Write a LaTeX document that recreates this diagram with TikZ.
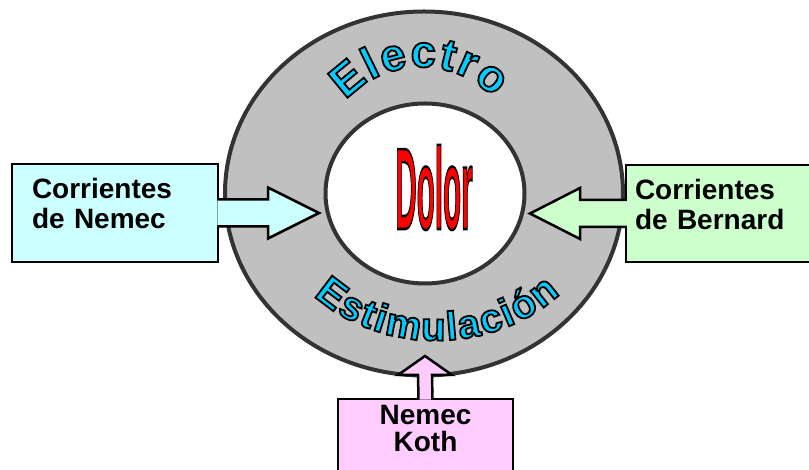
\documentclass[tikz,border=0pt]{standalone}
\usepackage{fontspec}
\usepackage{graphicx}
\setmainfont{Liberation Sans}
\usetikzlibrary{shapes.geometric,decorations.text}

\definecolor{ringgray}{RGB}{192,192,192}
\definecolor{ringline}{RGB}{51,51,51}
\definecolor{nemecfill}{RGB}{204,255,255}
\definecolor{bernardfill}{RGB}{204,255,204}
\definecolor{kothfill}{RGB}{255,204,255}
\definecolor{wordcyan}{RGB}{0,204,255}
\definecolor{dolorred}{RGB}{255,0,0}

% letters filled in the current colour and stroked in black
\newcommand\outlined[1]{\special{pdf:literal direct 0 G #1 w 2 Tr}}
\newcommand\electrofont{\fontsize{45}{45}\selectfont\bfseries\color{wordcyan}\outlined{1.8}}
\newcommand\stimfont{\fontsize{40}{40}\selectfont\bfseries\color{wordcyan}\outlined{1.8}}

\tikzset{
  sourcebox/.style={draw, line width=2.5pt, rectangle, inner sep=0pt,
    font=\fontsize{28}{30}\selectfont\bfseries, text height=20pt, text depth=48pt},
  blockarrow/.style={draw, line width=2.5pt, line join=miter},
  ringedge/.style={ellipse, draw=ringline, line width=4pt, inner sep=0pt}
}

\begin{document}
\begin{tikzpicture}[x=1pt, y=1pt]
  \path[use as bounding box, fill=white] (0,0) rectangle (809,470);

  % the ring
  \node[ringedge, fill=ringgray, minimum width=398pt, minimum height=364pt] (ring) at (424,276.5) {};
  \node[ringedge, fill=white, minimum width=199pt, minimum height=180pt] (core) at (425,276.5) {};
  \node[font=\fontsize{40}{40}\selectfont\bfseries] (dolor) at (434,282.5)
    {\scalebox{0.74}[2.9]{\color{dolorred}\outlined{0.9}Dolor}};

  % arched words
  \path[decorate, decoration={text along path, text={|\electrofont|Electro}, text align={fit to path}}]
    (421,302) ++(138:101) arc[start angle=138, end angle=44, radius=101];
  \path[decorate, decoration={text along path, text={|\stimfont|Estimulación}, text align={fit to path}}]
    (436,276.5) ++(224:170 and 147) arc[start angle=224, end angle=317, x radius=170, y radius=147];

  % sources
  \node[sourcebox, fill=nemecfill, minimum width=206pt, minimum height=98pt, text width=166pt, align=left]
    (nemec) at (115,257) {Corrientes\\de Nemec};
  \node[sourcebox, fill=bernardfill, minimum width=204pt, minimum height=97pt, text width=186pt, align=left]
    (bernard) at (728,256.5) {Corrientes\\de Bernard};
  \node[sourcebox, fill=kothfill, font=\fontsize{28}{27}\selectfont\bfseries, text depth=59pt,
    minimum width=175pt, minimum height=91pt, text width=175pt, align=center]
    (koth) at (425.5,25.5) {Nemec\\Koth};

  \coordinate (tipL) at (319,257);
  \coordinate (tipR) at (530,256.5);
  \coordinate (tipB) at (425,114);

  \draw[blockarrow, fill=nemecfill] ([shift={(-2,13.5)}]nemec.east) -- ([shift={(-51,13.5)}]tipL)
    -- ([shift={(-51,25.5)}]tipL) -- (tipL) -- ([shift={(-51,-25.5)}]tipL)
    -- ([shift={(-51,-13.5)}]tipL) -- ([shift={(-2,-13.5)}]nemec.east);
  \draw[blockarrow, fill=bernardfill] ([shift={(2,13.5)}]bernard.west) -- ([shift={(50,13.5)}]tipR)
    -- ([shift={(50,25.5)}]tipR) -- (tipR) -- ([shift={(50,-25.5)}]tipR)
    -- ([shift={(50,-13.5)}]tipR) -- ([shift={(2,-13.5)}]bernard.west);
  \draw[blockarrow, fill=kothfill] ([shift={(-7,-2)}]koth.north) -- ([shift={(-7,-19)}]tipB)
    -- ([shift={(-27,-19)}]tipB) -- (tipB) -- ([shift={(27,-19)}]tipB)
    -- ([shift={(7,-19)}]tipB) -- ([shift={(7,-2)}]koth.north);
\end{tikzpicture}
\end{document}
